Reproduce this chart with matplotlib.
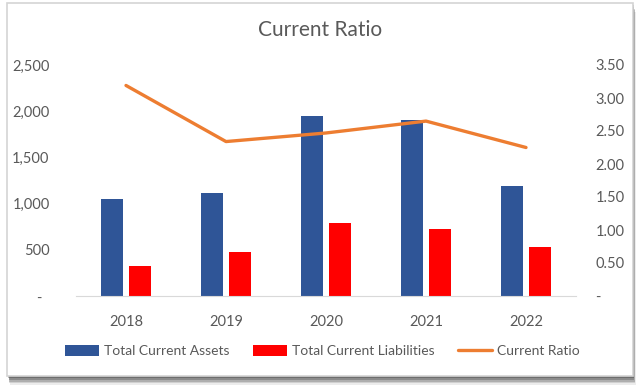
import matplotlib
matplotlib.use('Agg')
import matplotlib.pyplot as plt
from matplotlib.patches import Rectangle
from matplotlib.ticker import FuncFormatter

years = ['2018', '2019', '2020', '2021', '2022']
current_assets = [1045, 1110, 1948, 1905, 1190]
current_liabilities = [327, 476, 794, 722, 530]
current_ratio = [3.19, 2.34, 2.47, 2.65, 2.25]

plt.rcParams['font.family'] = ['Lato', 'DejaVu Sans']
grey = '#595959'

fig = plt.figure(figsize=(6.4, 3.9), dpi=100)
fig.patch.set_facecolor('white')

# chart frame with a soft drop shadow, like an exported spreadsheet chart
W, H = 640, 390
for i, a in enumerate([0.15, 0.25, 0.35, 0.45, 0.55]):
    off = 9 - i * 1.7
    fig.patches.append(Rectangle(((8 + off * 0.2) / W, (H - 376 - off) / H),
                                 (625 + off * 0.1) / W, 373 / H,
                                 transform=fig.transFigure, facecolor='#303030',
                                 edgecolor='none', alpha=a * 0.6, zorder=0))
fig.patches.append(Rectangle((7 / W, (H - 376) / H), 626 / W, 373 / H,
                             transform=fig.transFigure, facecolor='white',
                             edgecolor='#d4d4d4', linewidth=1.2, zorder=1))

ax = fig.add_axes([76 / W, 1 - 296 / H, 500 / W, 231 / H])
ax.set_zorder(2)
ax.patch.set_visible(False)

x = list(range(len(years)))
w = 0.22
ax.bar([i - 0.14 for i in x], current_assets, width=w, color='#2F5597',
       label='Total Current Assets', zorder=2)
ax.bar([i + 0.14 for i in x], current_liabilities, width=w, color='#FF0000',
       label='Total Current Liabilities', zorder=2)

ax.set_xlim(-0.5, 4.5)
ax.set_ylim(0, 2500)
ax.set_yticks([0, 500, 1000, 1500, 2000, 2500])
ax.yaxis.set_major_formatter(FuncFormatter(lambda v, p: '-  ' if v == 0 else f'{v:,.0f}'))
ax.set_xticks(x)
ax.set_xticklabels(years)

ax2 = ax.twinx()
ax2.plot(x, current_ratio, color='#ED7D31', linewidth=2.4, label='Current Ratio',
         solid_capstyle='round', zorder=3)
ax2.set_ylim(0, 3.5)
ax2.set_yticks([0, 0.5, 1.0, 1.5, 2.0, 2.5, 3.0, 3.5])
ax2.yaxis.set_major_formatter(FuncFormatter(lambda v, p: '-' if v == 0 else f'{v:.2f}'))

for a in (ax, ax2):
    for s in a.spines.values():
        s.set_visible(False)
    a.tick_params(length=0, labelsize=10.5, labelcolor=grey)
ax.spines['bottom'].set_visible(True)
ax.spines['bottom'].set_color('#d9d9d9')
ax.tick_params(axis='x', pad=14)
ax.tick_params(axis='y', pad=19)
ax2.tick_params(axis='y', pad=14)
for lbl in ax2.get_yticklabels():
    lbl.set_horizontalalignment('left')

fig.text(0.5, 1 - 30 / H, 'Current Ratio', ha='center', va='center',
         fontsize=15, color=grey)

h1, l1 = ax.get_legend_handles_labels()
h2, l2 = ax2.get_legend_handles_labels()
fig.legend(h1 + h2, l1 + l2, loc='center', bbox_to_anchor=(322 / W, 1 - 351 / H),
           ncol=3, frameon=False, fontsize=10, handlelength=2.5, handleheight=0.8,
           handletextpad=0.3, columnspacing=1.7, labelcolor=grey)

plt.savefig('out.png', dpi=100, facecolor='white')
